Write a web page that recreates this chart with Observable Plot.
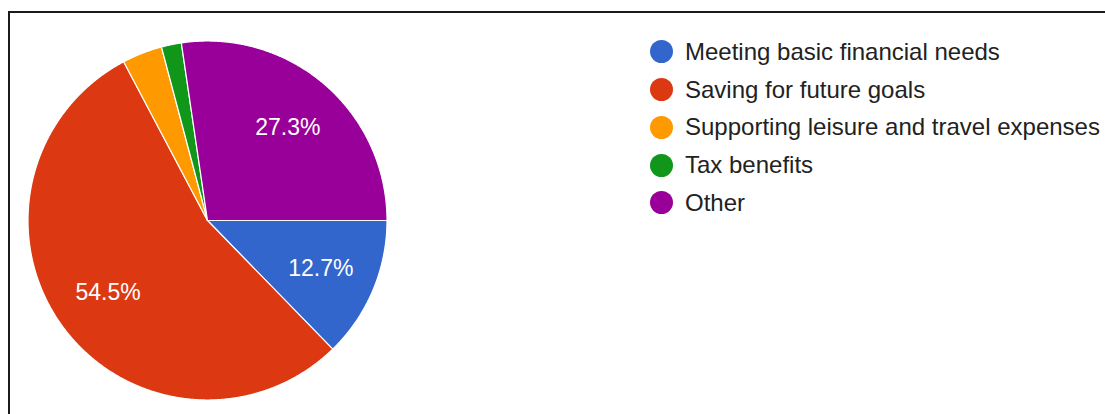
<!DOCTYPE html>
<html>
<head>
<meta charset="utf-8">
<script src="https://cdn.jsdelivr.net/npm/d3@7"></script>
<script src="https://cdn.jsdelivr.net/npm/@observablehq/plot@0.6"></script>
<style>
  html, body { margin: 0; padding: 0; background: #fff; }
  #wrap { position: relative; width: 1105px; height: 414px; overflow: hidden; font-family: Arial, "Liberation Sans", sans-serif; }
  #frame { position: absolute; left: 8px; top: 11px; width: 1200px; height: 500px; border-top: 2px solid #1a1a1a; border-left: 2px solid #1a1a1a; box-sizing: border-box; }
  #chart { position: absolute; left: 0; top: 0; }
  #legend { position: absolute; left: 650px; top: 33px; }
  .item { height: 37.75px; display: flex; align-items: center; font-size: 24px; color: #222; white-space: nowrap; }
  .sw { width: 23px; height: 23px; border-radius: 50%; margin-right: 12px; flex: none; }
</style>
</head>
<body>
<div id="wrap">
  <div id="frame"></div>
  <div id="chart"></div>
  <div id="legend"></div>
</div>
<script>
const categories = ["Meeting basic financial needs", "Saving for future goals", "Supporting leisure and travel expenses", "Tax benefits", "Other"];
const percents = [12.7, 54.5, 3.6, 1.8, 27.3];
const colors = ["#3366cc", "#dc3912", "#ff9900", "#109618", "#990099"];

const rows = categories.map((c, i) => ({category: c, value: percents[i]}));
const arcs = d3.pie().sort(null).value(d => d.value)
  .startAngle(Math.PI / 2).endAngle(Math.PI / 2 + 2 * Math.PI)(rows);

function slicePolygon(a) {
  const ring = [[0, 0]];
  const n = Math.max(2, Math.ceil((a.endAngle - a.startAngle) / 0.005));
  for (let k = 0; k <= n; k++) {
    const t = a.startAngle + (a.endAngle - a.startAngle) * k / n;
    ring.push([Math.sin(t), -Math.cos(t)]);
  }
  ring.push([0, 0]);
  return {type: "Feature", properties: {category: a.data.category, value: a.data.value}, geometry: {type: "Polygon", coordinates: [ring]}};
}
const slices = arcs.map(slicePolygon);
const circle = {type: "Feature", geometry: {type: "Polygon", coordinates: [d3.range(0, 361, 1).map(d => [Math.sin(d * Math.PI / 180), -Math.cos(d * Math.PI / 180)])]}};
const labels = arcs.filter(a => a.data.value >= 5).map(a => {
  const m = (a.startAngle + a.endAngle) / 2;
  return {x: 0.685 * Math.sin(m), y: -0.685 * Math.cos(m), text: a.data.value.toFixed(1) + "%"};
});

const chart = Plot.plot({
  width: 1105,
  height: 414,
  marginLeft: 27.5,
  marginRight: 718.5,
  marginTop: 40.5,
  marginBottom: 14.5,
  projection: {type: "identity", domain: circle},
  color: {domain: categories, range: colors},
  style: {fontFamily: "Arial, 'Liberation Sans', sans-serif", background: "transparent"},
  marks: [
    Plot.geo(slices, {fill: d => d.properties.category, stroke: "white", strokeWidth: 1.2}),
    Plot.text(labels, {x: "x", y: "y", text: "text", fill: "white", fontSize: 23})
  ]
});
document.getElementById("chart").appendChild(chart);

const legend = document.getElementById("legend");
categories.forEach((c, i) => {
  const it = document.createElement("div");
  it.className = "item";
  const sw = document.createElement("span");
  sw.className = "sw";
  sw.style.background = colors[i];
  const tx = document.createElement("span");
  tx.textContent = c;
  it.appendChild(sw);
  it.appendChild(tx);
  legend.appendChild(it);
});
</script>
</body>
</html>
